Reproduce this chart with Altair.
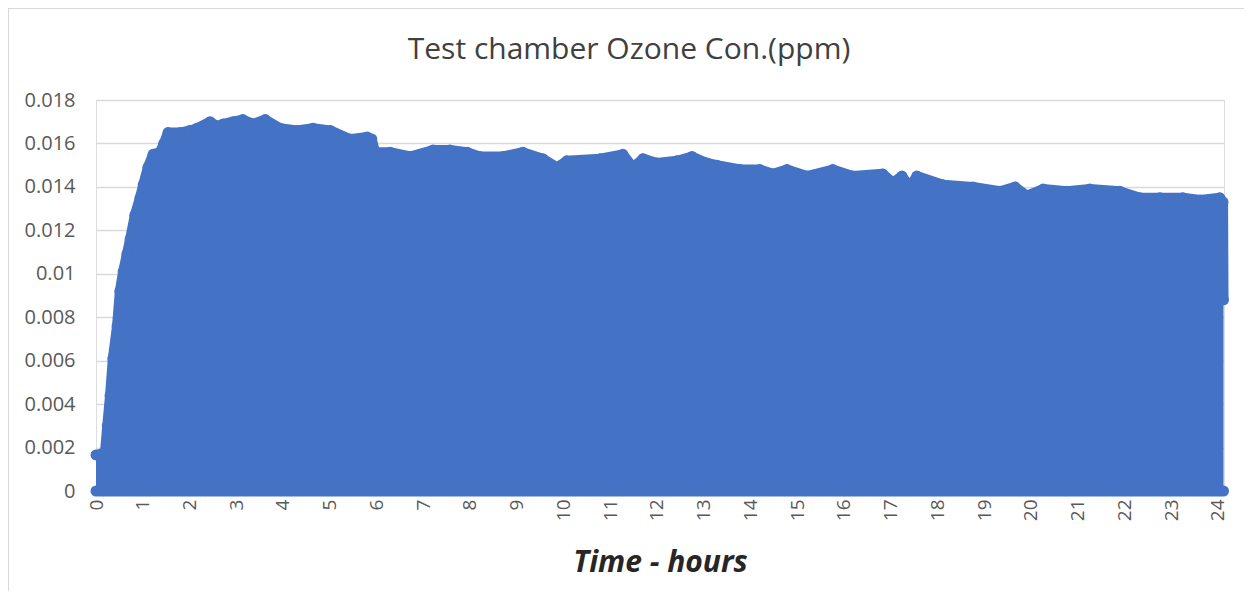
import altair as alt
import pandas as pd

# Time (hours) and ozone concentration (ppm)
hours = [0.00, 0.11, 0.19, 0.24, 0.30, 0.36, 0.45, 0.51, 0.58, 0.66, 0.73, 0.83, 0.94,
         1.01, 1.11, 1.22, 1.37, 1.45, 1.54, 1.80, 2.01, 2.16, 2.44, 2.59, 2.72, 2.93,
         3.14, 3.36, 3.62, 3.94, 4.30, 4.64, 5.01, 5.43, 5.80, 5.90, 5.97, 6.29, 6.72,
         7.21, 7.57, 7.94, 8.21, 8.71, 9.13, 9.56, 9.86, 10.07, 10.78, 11.27, 11.49,
         11.70, 12.00, 12.43, 12.75, 13.07, 13.28, 13.78, 14.20, 14.48, 14.78, 15.21,
         15.76, 16.19, 16.83, 17.05, 17.24, 17.41, 17.56, 18.12, 18.76, 19.34, 19.66,
         19.91, 20.26, 20.77, 21.26, 21.90, 22.33, 22.76, 23.25, 23.62, 24.04, 24.11,
         24.12]
ozone = [0.00166, 0.0017, 0.00175, 0.0030, 0.0044, 0.0061, 0.0076, 0.0092, 0.0101,
         0.0109, 0.0116, 0.0127, 0.0135, 0.0141, 0.0149, 0.0155, 0.0156, 0.0160, 0.0165,
         0.0165, 0.0166, 0.0167, 0.0170, 0.0168, 0.0169, 0.0170, 0.0171, 0.0169, 0.0171,
         0.0167, 0.0166, 0.0167, 0.0166, 0.0162, 0.0163, 0.0162, 0.0156, 0.0156, 0.0154,
         0.0157, 0.0157, 0.0156, 0.0154, 0.0154, 0.0156, 0.0153, 0.0149, 0.0152, 0.0153,
         0.0155, 0.0149, 0.0153, 0.0151, 0.0152, 0.0154, 0.0151, 0.0150, 0.0148, 0.0148,
         0.0146, 0.0148, 0.0145, 0.0148, 0.0145, 0.0146, 0.0142, 0.0145, 0.0140, 0.0145,
         0.0141, 0.0140, 0.0138, 0.0140, 0.0136, 0.0139, 0.0138, 0.0139, 0.0138, 0.0135,
         0.0135, 0.0135, 0.0134, 0.0135, 0.0133, 0.0088]

y_ticks = [0, 0.002, 0.004, 0.006, 0.008, 0.01, 0.012, 0.014, 0.016, 0.018]
x_ticks = list(range(0, 25))

BLUE = "#4472C4"
GRID = "#d9d9d9"

df = pd.DataFrame({"hours": hours, "ozone": ozone})
df["zero"] = 0.0

x_enc = alt.X(
    "hours:Q",
    scale=alt.Scale(domain=[0, 24.13], nice=False, zero=False),
    axis=alt.Axis(
        values=x_ticks, labelAngle=270, labelAlign="right", labelBaseline="middle",
        labelPadding=8, labelFontSize=19, labelColor="#595959", labelFont="Open Sans",
        ticks=False, domainColor=GRID, grid=False,
        title="Time - hours", titleFont="Open Sans", titleFontSize=30,
        titleFontStyle="italic", titleFontWeight="bold", titleColor="#262626",
        titlePadding=27,
    ),
)
y_enc = alt.Y(
    "ozone:Q",
    scale=alt.Scale(domain=[0, 0.018], nice=False),
    axis=alt.Axis(
        values=y_ticks, format="~g", labelFontSize=20, labelColor="#595959",
        labelFont="Open Sans", labelPadding=21, ticks=False, domain=False,
        grid=True, gridColor=GRID, gridWidth=1.5, title=None,
    ),
)

frame = alt.Chart(df).mark_rect(
    fillOpacity=0, stroke=GRID, strokeWidth=1.5, clip=False
).encode(
    x=alt.value(-88), x2=alt.value(1149), y=alt.value(-92), y2=alt.value(508)
)

base = alt.Chart(df)
area = base.mark_area(color=BLUE, interpolate="linear").encode(x=x_enc, y=y_enc)
edge = base.mark_line(color=BLUE, strokeWidth=10, strokeCap="round",
                      strokeJoin="round").encode(x="hours:Q", y="ozone:Q")
edge0 = base.mark_line(color=BLUE, strokeWidth=11, strokeCap="round").encode(
    x="hours:Q", y="zero:Q")
pts = base.mark_circle(color=BLUE, size=120, opacity=1).encode(x="hours:Q", y="ozone:Q")

chart = alt.layer(area, edge, edge0, pts, frame).properties(
    width=1128, height=391,
    title=alt.TitleParams(
        "Test chamber Ozone Con.(ppm)", font="Open Sans", fontSize=30,
        fontWeight="normal", color="#404040", anchor="middle", dx=-31, offset=-58,
    ),
    autosize=alt.AutoSizeParams(type="none"),
    padding={"left": 88, "top": 92, "right": 20, "bottom": 100},
).configure_view(stroke=None).configure(background="white")

chart.save("out.html", embed_options={"renderer": "svg", "actions": False})
